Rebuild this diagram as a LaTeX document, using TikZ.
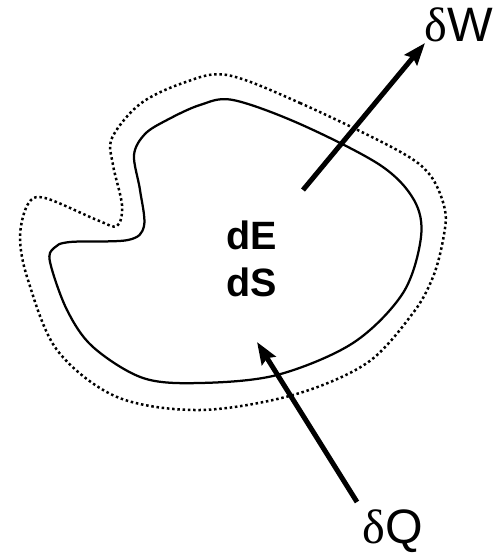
\documentclass[tikz,border=0pt]{standalone}
\usepackage{fontspec}
\setmainfont{Liberation Sans}
\newfontfamily\greekfont{Liberation Serif}
\usetikzlibrary{arrows.meta}
\tikzset{
  boundary/.style={
    line width=0.045cm,
    line join=round
  },
  surround/.style={
    line width=0.05cm,
    dash pattern=on 0.05cm off 0.055cm
  },
  flux/.style={
    line width=0.1cm,
    -{Stealth[length=0.44cm,width=0.32cm,inset=0.06cm]}
  },
  label/.style={
    font=\fontsize{27.5}{32}\selectfont,
    inner sep=0pt
  }
}

\begin{document}
\begin{tikzpicture}[x=0.02cm,y=-0.02cm]
    \useasboundingbox (0,0) rectangle (501,554);
    % system
    \draw[boundary] plot[smooth cycle,tension=0.55] coordinates {
      (233,100) (300,124) (380,165) (414,200) (421,237) (403,293) (353,343)
      (277,375) (200,383) (143,378) (93,347) (67,310) (50,262) (54,248)
      (70,242) (128,240) (144,226) (140,190) (134,155) (145,134) (167,120) (200,105)};
    % surroundings
    \draw[surround] plot[smooth cycle,tension=0.55] coordinates {
      (227,75) (300,103) (397,150) (430,175) (445,210) (443,240) (433,277)
      (413,313) (367,363) (293,395) (200,410) (117,397) (57,350) (28,280)
      (20,237) (28,204) (45,198) (97,220) (117,226) (122,205) (113,165)
      (112,138) (140,104) (183,83)};
    \node[font=\fontsize{22.5}{27}\selectfont\bfseries, align=center] (state) at (252,259) {dE\\dS};
    % work
    \coordinate (wtail) at (303,190);
    \coordinate (wtip) at (425,43);
    \node[label, anchor=base west] (work) at (424,42) {{\greekfont δ}W};
    \draw[flux] (wtail) -- (wtip);
    % heat
    \coordinate (qtail) at (357,502);
    \coordinate (qtip) at (257,342);
    \node[label, anchor=base west] (heat) at (362,543) {{\greekfont δ}Q};
    \draw[flux] (qtail) -- (qtip);
\end{tikzpicture}
\end{document}
